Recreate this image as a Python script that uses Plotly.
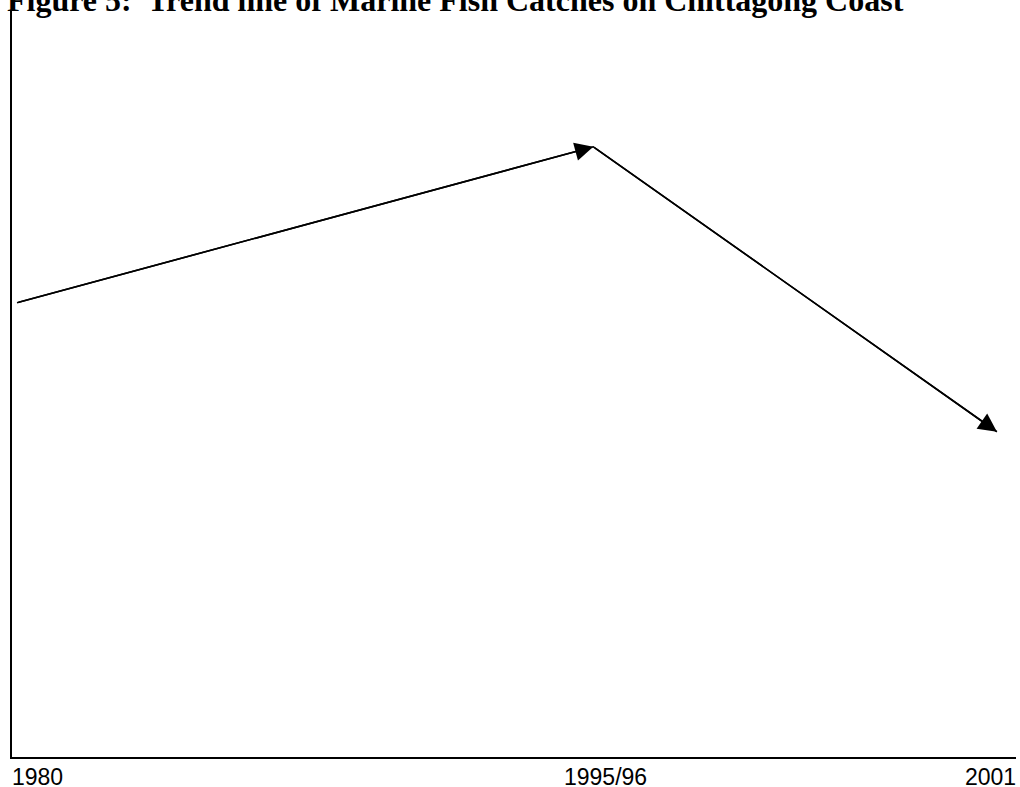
import plotly.graph_objects as go

# Data (schematic trend, arbitrary units)
categories = ["1980", "1995/96", "2001"]
x_pos = [0.5, 57.9, 98.1]       # horizontal position of each period on a 0-100 scale
catch_index = [60.9, 81.8, 43.6]  # relative catch level on a 0-100 scale
label_x = [0, 59.1, 100]
label_anchor = ["left", "center", "right"]
label_shift = [-2, 0, 2]
title_text = "Figure 5:\u00a0 Trend line of Marine Fish Catches on Chittagong Coast"

fig = go.Figure()
fig.add_trace(go.Scatter(x=x_pos, y=catch_index, mode="lines",
                         line=dict(color="black", width=1.6),
                         hoverinfo="skip", showlegend=False))

# arrowheads on each segment
for i in range(1, len(x_pos)):
    fig.add_annotation(x=x_pos[i], y=catch_index[i], ax=x_pos[i - 1], ay=catch_index[i - 1],
                       xref="x", yref="y", axref="x", ayref="y", text="",
                       showarrow=True, arrowhead=2, arrowsize=2.3, arrowwidth=1.6,
                       arrowcolor="black")

# category labels
for lab, lx, anc, sh in zip(categories, label_x, label_anchor, label_shift):
    fig.add_annotation(x=lx, y=0, xref="x", yref="paper", text=lab, showarrow=False,
                       xanchor=anc, yanchor="top", yshift=-5, xshift=sh,
                       font=dict(family="Liberation Sans, Arial", size=23, color="black"))

fig.add_annotation(x=0, y=1, xref="paper", yref="paper", text="<b>" + title_text + "</b>",
                   showarrow=False, xanchor="left", yanchor="bottom", xshift=-7, yshift=-9,
                   font=dict(family="Liberation Serif, Times New Roman", size=32, color="black"))

fig.update_xaxes(range=[0, 100], showline=True, linecolor="black", linewidth=2,
                 showgrid=False, zeroline=False, showticklabels=False, ticks="")
fig.update_yaxes(range=[0, 100], showline=True, linecolor="black", linewidth=2,
                 showgrid=False, zeroline=False, showticklabels=False, ticks="")

fig.update_layout(width=1020, height=787, margin=dict(l=12, r=4, t=11, b=30),
                  plot_bgcolor="white", paper_bgcolor="white")

fig.write_html("out.html", config={"displayModeBar": False},
               post_script="document.body.style.margin='0';document.body.style.overflow='hidden';")
